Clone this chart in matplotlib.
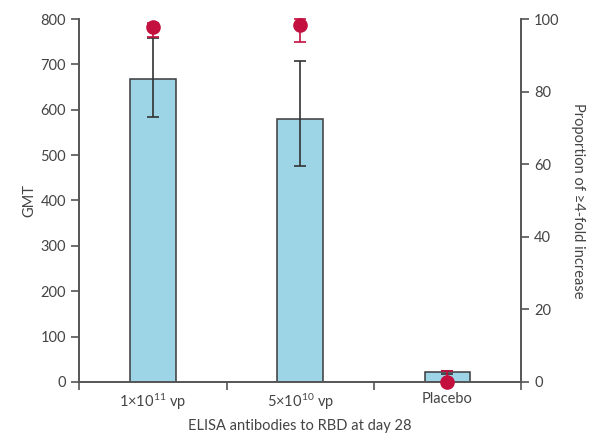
import numpy as np
import matplotlib
matplotlib.use("Agg")
import matplotlib.pyplot as plt

plt.rcParams['font.family'] = ['Lato', 'DejaVu Sans']
plt.rcParams['mathtext.fontset'] = 'custom'
plt.rcParams['mathtext.rm'] = 'Lato'
plt.rcParams['mathtext.default'] = 'regular'

# ELISA GMT por grupo (barras) y proporción con aumento >=4 veces (puntos)
grupos = [r"1$\times$10$^{11}$ vp", r"5$\times$10$^{10}$ vp", "Placebo"]
gmt = [667, 580, 21]
gmt_inf = [584, 476, 18]
gmt_sup = [759, 707, 24]
prop = [97.9, 98.3, 0]
prop_inf = [95.1, 93.7, 0]
prop_sup = [99.0, 100, 3.1]

GRIS = "#444444"
AZUL = "#9dd4e6"
ROJO = "#c4103e"

fig = plt.figure(figsize=(5.95, 4.36), dpi=100)
ax = fig.add_axes([0.1333, 0.1239, 0.7423, 0.8325])
ax2 = ax.twinx()

x = np.arange(len(grupos))
err = [np.array(gmt) - np.array(gmt_inf), np.array(gmt_sup) - np.array(gmt)]
ax.bar(x, gmt, width=0.31, color=AZUL, edgecolor="#3a3a3a", linewidth=1.1, zorder=2)
ax.errorbar(x, gmt, yerr=err, fmt="none", ecolor="#333333", elinewidth=1.2,
            capsize=4, capthick=1.2, zorder=3)

err2 = [np.array(prop) - np.array(prop_inf), np.array(prop_sup) - np.array(prop)]
ax2.errorbar(x, prop, yerr=err2, fmt="o", color=ROJO, ms=9.5, ecolor=ROJO,
             elinewidth=1.2, capsize=4, capthick=1.2, zorder=4, clip_on=False)

ax.set_xlim(-0.5, 2.5)
ax.set_ylim(0, 800)
ax2.set_ylim(0, 100)
ax.set_yticks(np.arange(0, 801, 100))
ax2.set_yticks(np.arange(0, 101, 20))

# marcas del eje x entre categorías, etiquetas centradas en las barras
ax.set_xticks([-0.5, 0.5, 1.5, 2.5])
ax.set_xticklabels([])
ax.set_xticks(x, minor=True)
ax.set_xticklabels(grupos, minor=True)
ax.tick_params(axis="x", which="minor", length=0, pad=7)
ax.tick_params(axis="x", which="major", length=6, width=1.2, color="#555555")

for a in (ax, ax2):
    a.spines["top"].set_visible(False)
    for s in a.spines.values():
        s.set_color("#555555")
        s.set_linewidth(1.2)
    a.tick_params(axis="y", length=6, width=1.2, color="#555555",
                  labelsize=10.5, labelcolor=GRIS)
ax.tick_params(axis="x", which="both", labelsize=10.5, labelcolor=GRIS)
ax.set_zorder(ax2.get_zorder() - 1)
ax.patch.set_visible(True)
ax2.patch.set_visible(False)

ax.set_ylabel("GMT", color=GRIS, fontsize=10.5, labelpad=3)
ax2.set_ylabel("Proportion of \u22654-fold increase", color=GRIS, fontsize=10.5,
               rotation=270, labelpad=18)
ax.set_xlabel("ELISA antibodies to RBD at day 28", color=GRIS, fontsize=10.5,
              labelpad=5)

plt.savefig("out.png", dpi=100)
